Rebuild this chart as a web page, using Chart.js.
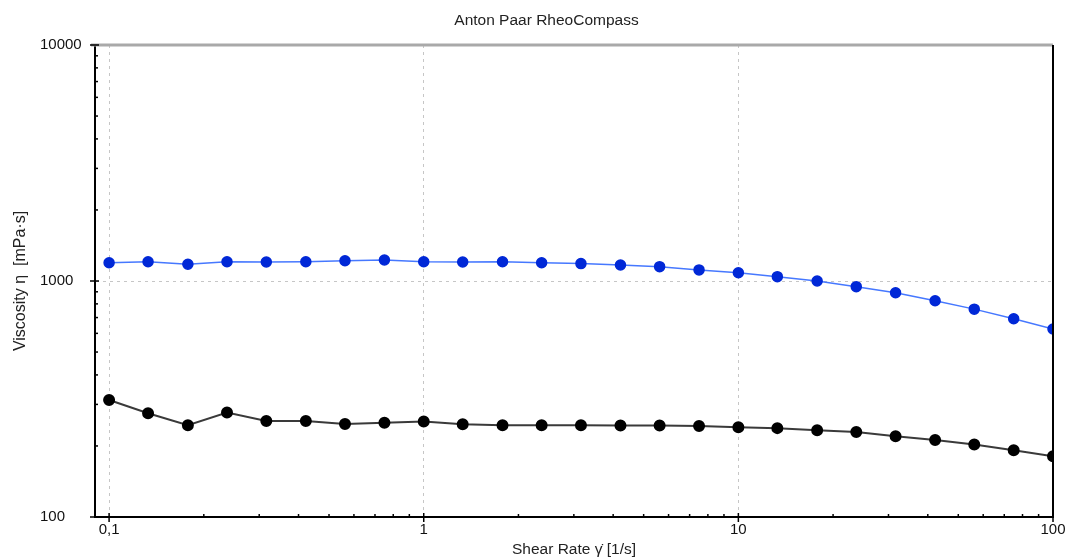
<!DOCTYPE html>
<html>
<head>
<meta charset="utf-8">
<script src="https://cdn.jsdelivr.net/npm/chart.js@4"></script>
<style>
  body { margin: 0; background: #fff; }
</style>
</head>
<body>
<canvas id="myChart" width="1072" height="559"></canvas>
<script>
const ctx = document.getElementById('myChart');

const FONT = "'Liberation Sans', Arial, sans-serif";

// measuring points (1/s)
const shearRate = [0.1, 0.133, 0.178, 0.237, 0.316, 0.422, 0.562, 0.75,
  1, 1.33, 1.78, 2.37, 3.16, 4.22, 5.62, 7.5,
  10, 13.3, 17.8, 23.7, 31.6, 42.2, 56.2, 75, 100];

// viscosity (mPa·s)
const viscosityBlue = [1195, 1207, 1178, 1207, 1203, 1207, 1219, 1227,
  1207, 1203, 1207, 1195, 1185, 1169, 1150, 1114,
  1084, 1043, 1000, 946, 892, 825, 760, 692, 626];
const viscosityBlack = [313, 275, 245, 277, 255, 255, 248, 251,
  254, 247, 245, 245, 245, 244, 244, 243,
  240, 238, 233, 229, 220, 212, 203, 192, 181];

const xTickValues = [0.1, 1, 10, 100];
const xTickLabels = ['0,1', '1', '10', '100'];
const yTickValues = [100, 1000, 10000];
const yTickLabels = ['100', '1000', '10000'];

const chartTitle = 'Anton Paar RheoCompass';
const xTitle = 'Shear Rate \u03B3\u0307 [1/s]';
const yTitle = 'Viscosity \u03B7  [mPa\u00B7s]';

const X_MIN = 0.0902;

function findIndex(list, v) {
  return list.findIndex(t => Math.abs(t - v) / t < 1e-6);
}

function isDecade(v) {
  const l = Math.log10(v);
  return Math.abs(l - Math.round(l)) < 1e-6;
}

// keep 1..9 x 10^n ticks only (drop 1.5, 15 ... and the axis minimum)
function cleanTicks(scale) {
  scale.ticks = scale.ticks.filter(t => {
    const m = t.value / Math.pow(10, Math.floor(Math.log10(t.value) + 1e-9));
    return Math.abs(m - Math.round(m)) < 1e-6;
  });
}

function points(values) {
  return shearRate.map((x, i) => ({ x: x, y: values[i] }));
}

const frame = {
  id: 'frame',
  afterDatasetsDraw(chart) {
    const c = chart.ctx;
    const a = chart.chartArea;
    const x = chart.scales.x;
    const y = chart.scales.y;
    const line = (x1, y1, x2, y2) => {
      c.beginPath(); c.moveTo(x1, y1); c.lineTo(x2, y2); c.stroke();
    };
    c.save();
    c.strokeStyle = '#a9a9a9';
    c.lineWidth = 3;
    line(a.left - 4, a.top, a.right, a.top);
    c.strokeStyle = '#000';
    c.lineWidth = 2;
    line(a.right, a.top, a.right, a.bottom + 1);

    c.lineWidth = 1.5;
    x.ticks.forEach(t => {
      const px = x.getPixelForValue(t.value);
      if (isDecade(t.value)) line(px, a.bottom - 4, px, a.bottom + 5);
      else line(px, a.bottom - 3, px, a.bottom);
    });
    y.ticks.forEach(t => {
      const py = y.getPixelForValue(t.value);
      if (isDecade(t.value)) line(a.left - 5, py, a.left + 4, py);
      else line(a.left, py, a.left + 3, py);
    });

    // y axis title
    c.translate(21, (a.top + a.bottom) / 2);
    c.rotate(-Math.PI / 2);
    c.fillStyle = '#222';
    c.font = '16px ' + FONT;
    c.textAlign = 'center';
    c.textBaseline = 'middle';
    c.fillText(yTitle, 0, 0);
    c.restore();
  }
};

const chart = new Chart(ctx, {
  type: 'line',
  data: {
    datasets: [{
      data: points(viscosityBlue),
      borderColor: 'rgb(70, 120, 255)',
      borderWidth: 1.5,
      pointBackgroundColor: 'rgb(0, 40, 215)',
      pointBorderColor: 'rgb(0, 40, 215)',
      pointRadius: 5,
      clip: 0
    }, {
      data: points(viscosityBlack),
      borderColor: '#3a3a3a',
      borderWidth: 2,
      pointBackgroundColor: '#000',
      pointBorderColor: '#000',
      pointRadius: 5,
      clip: 0
    }]
  },
  options: {
    responsive: false,
    animation: false,
    layout: { padding: { left: 40, right: 19, top: 0, bottom: 0 } },
    plugins: {
      legend: { display: false },
      tooltip: { enabled: false },
      title: {
        display: true,
        text: chartTitle,
        color: '#222',
        font: { family: FONT, size: 15.5, weight: 'normal' },
        padding: { top: 11, bottom: 15.4 }
      }
    },
    scales: {
      x: {
        type: 'logarithmic',
        min: X_MIN,
        max: 100,
        afterBuildTicks: cleanTicks,
        afterFit: s => { s.height = 42; },
        border: { color: '#000', width: 2, dash: [3, 4] },
        grid: {
          drawTicks: false,
          lineWidth: 1,
          color: c => (c.tick && isDecade(c.tick.value) && c.tick.value < 100) ? '#c6c6c6' : 'transparent'
        },
        ticks: {
          autoSkip: false,
          maxRotation: 0,
          padding: 4,
          color: '#111',
          font: { family: FONT, size: 15 },
          callback: v => {
            const i = findIndex(xTickValues, v);
            return i < 0 ? '' : xTickLabels[i];
          }
        },
        title: {
          display: true,
          text: xTitle,
          color: '#222',
          font: { family: FONT, size: 15.5 },
          padding: { top: 0, bottom: 0 }
        }
      },
      y: {
        type: 'logarithmic',
        min: 100,
        max: 10000,
        afterBuildTicks: cleanTicks,
        afterFit: s => { s.width = 55; },
        border: { color: '#000', width: 2, dash: [3, 4] },
        grid: {
          drawTicks: false,
          lineWidth: 1,
          color: c => (c.tick && c.tick.value === 1000) ? '#c6c6c6' : 'transparent'
        },
        ticks: {
          autoSkip: false,
          crossAlign: 'far',
          color: '#111',
          font: { family: FONT, size: 15 },
          callback: v => {
            const i = findIndex(yTickValues, v);
            return i < 0 ? '' : yTickLabels[i];
          }
        }
      }
    }
  },
  plugins: [frame]
});
</script>
</body>
</html>
